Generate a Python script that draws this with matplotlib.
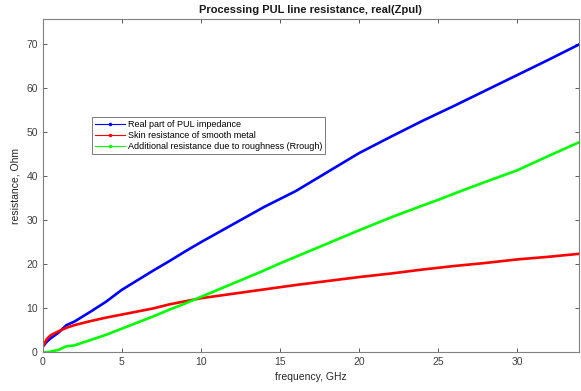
import matplotlib
matplotlib.use("Agg")
import matplotlib.pyplot as plt

# frequency grid, GHz
freq = [0, 0.25, 0.5, 1, 1.5, 2, 3, 4, 5, 6, 7, 8, 9, 10, 12, 14, 15, 16,
        18, 20, 22, 24, 25, 26, 28, 30, 32, 34]

# real part of PUL impedance
r_total = [1.3, 2.4, 3.2, 4.5, 6.2, 7.0, 9.2, 11.5, 14.2, 16.4, 18.6, 20.7,
           22.9, 25.0, 29.0, 33.0, 34.8, 36.6, 40.9, 45.2, 48.9, 52.5, 54.2,
           55.9, 59.4, 62.9, 66.4, 70.0]
# skin resistance of smooth metal
r_skin = [1.3, 3.0, 3.9, 4.8, 5.6, 6.2, 7.1, 7.9, 8.6, 9.3, 10.0, 10.9, 11.6,
          12.3, 13.3, 14.3, 14.8, 15.3, 16.2, 17.1, 17.9, 18.8, 19.2, 19.6,
          20.3, 21.1, 21.7, 22.4]
# additional resistance due to roughness
r_rough = [0.0, 0.05, 0.2, 0.6, 1.4, 1.6, 2.8, 4.0, 5.4, 6.8, 8.2, 9.7, 11.1,
           12.6, 15.6, 18.6, 20.2, 21.7, 24.7, 27.7, 30.6, 33.3, 34.6, 36.0,
           38.7, 41.3, 44.6, 47.8]

plt.rcParams["font.family"] = ["Liberation Sans", "DejaVu Sans"]

fig = plt.figure(figsize=(5.81, 3.91), dpi=100)
ax = fig.add_axes([0.0735, 0.0985, 0.923, 0.854])

ax.plot(freq, r_total, color="#0000ff", lw=1.9,
        label="Real part of PUL impedance")
ax.plot(freq, r_skin, color="#ff0000", lw=1.9,
        label="Skin resistance of smooth metal")
ax.plot(freq, r_rough, color="#00ff00", lw=1.9,
        label="Additional resistance due to roughness (Rrough)")

ax.set_xlim(0, 33.9)
ax.set_ylim(0, 75.7)
ax.set_xticks([0, 5, 10, 15, 20, 25, 30])
ax.set_yticks([0, 10, 20, 30, 40, 50, 60, 70])
ax.tick_params(direction="in", top=True, right=True, labelsize=7.5,
               colors="#404040", length=3, width=0.6)
for s in ax.spines.values():
    s.set_color("#808080")
    s.set_linewidth(0.8)

ax.set_xlabel("frequency, GHz", fontsize=7.5, color="#262626", labelpad=3)
ax.set_ylabel("resistance, Ohm", fontsize=7.5, color="#262626", labelpad=4)
ax.set_title("Processing PUL line resistance, real(Zpul)", fontsize=8,
             fontweight="bold", color="#1a1a1a", pad=4)

leg = ax.legend(loc="upper left", bbox_to_anchor=(0.092, 0.705), fontsize=6.5,
                frameon=True, fancybox=False, handlelength=3.3, borderpad=0.3,
                labelspacing=0.25, handletextpad=0.4, borderaxespad=0,
                numpoints=1)
leg.get_frame().set_edgecolor("#404040")
leg.get_frame().set_linewidth(0.6)
for line in leg.get_lines():
    line.set_linewidth(0.8)
    line.set_marker(".")
    line.set_markersize(3)

fig.savefig("out.png", dpi=100)
